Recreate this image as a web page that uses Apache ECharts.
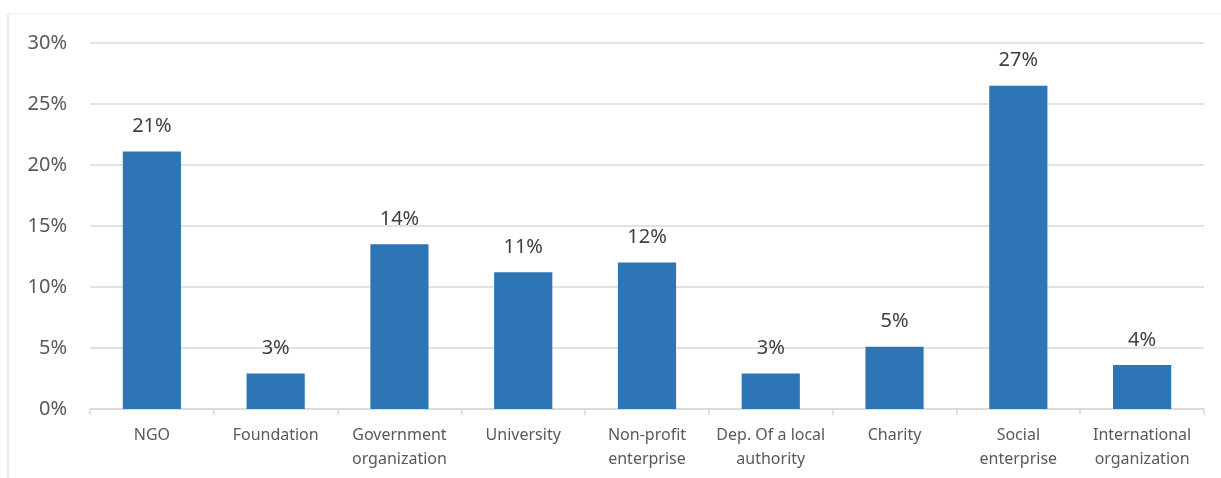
<!DOCTYPE html>
<html>
<head>
<meta charset="utf-8">
<script src="https://cdn.jsdelivr.net/npm/echarts@6/dist/echarts.min.js"></script>
<style>
  html, body { margin: 0; padding: 0; background: #fff; }
  #chart { width: 1221px; height: 478px; }
</style>
</head>
<body>
<div id="chart"></div>
<script>
var categories = ['NGO', 'Foundation', 'Government\norganization', 'University', 'Non-profit\nenterprise',
                  'Dep. Of a local\nauthority', 'Charity', 'Social\nenterprise', 'International\norganization'];
var shares = [21.1, 2.9, 13.5, 11.2, 12.0, 2.9, 5.1, 26.5, 3.6];
var yTicks = [0, 5, 10, 15, 20, 25, 30];

var chart = echarts.init(document.getElementById('chart'));
var font = '"Noto Sans", "Open Sans", sans-serif';

chart.setOption({
    animation: false,
    textStyle: { fontFamily: font },
    graphic: [
        { type: 'line', shape: { x1: 8, y1: 14, x2: 1221, y2: 14 }, style: { stroke: '#eeeeee', lineWidth: 1 } },
        { type: 'line', shape: { x1: 8, y1: 14, x2: 8, y2: 478 }, style: { stroke: '#d6e4f0', lineWidth: 1.5 } }
    ],
    grid: { left: 90, right: 17, top: 43, bottom: 69 },
    xAxis: {
        type: 'category',
        data: categories,
        axisLine: { lineStyle: { color: '#d9d9d9', width: 1.5 } },
        axisTick: { show: true, length: 6, lineStyle: { color: '#d9d9d9', width: 1.5 } },
        axisLabel: { color: '#595959', fontSize: 16, margin: 14, lineHeight: 24, fontFamily: font, interval: 0 }
    },
    yAxis: {
        type: 'value',
        min: yTicks[0],
        max: yTicks[yTicks.length - 1],
        interval: 5,
        axisLine: { show: false },
        axisTick: { show: false },
        splitLine: { lineStyle: { color: '#d9d9d9', width: 1.5 } },
        axisLabel: { color: '#595959', fontSize: 20, margin: 23, fontFamily: font, formatter: '{value}%' }
    },
    series: [{
        type: 'bar',
        data: shares,
        barWidth: '47%',
        itemStyle: { color: '#2e75b6' },
        label: {
            show: true,
            position: 'top',
            distance: 15,
            color: '#404040',
            fontSize: 20,
            fontFamily: font,
            formatter: function (p) { return Math.round(p.value) + '%'; }
        }
    }]
});
</script>
</body>
</html>
